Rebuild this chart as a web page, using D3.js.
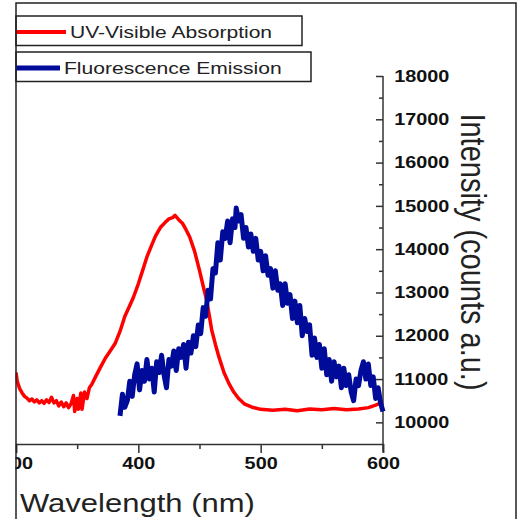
<!DOCTYPE html>
<html>
<head>
<meta charset="utf-8">
<script src="https://cdn.jsdelivr.net/npm/d3@7"></script>
<style>
  body { margin: 0; background: #fff; }
  text { font-family: "Liberation Sans", Arial, sans-serif; }
</style>
</head>
<body>
<div id="chart"></div>
<script>
// absorption (wavelength nm, intensity)
let absWl = [300, 301, 303, 305, 307, 309, 311, 313, 315, 317, 319, 321, 323, 325, 327, 329, 331, 333, 335, 337, 339, 341, 343, 345, 347, 348, 350, 351, 353, 354, 356, 358, 360,
  362, 365, 369, 373, 377, 381, 385, 389, 393, 396, 400, 404, 407, 411, 414, 418, 422, 425, 428, 430, 433, 436, 439, 442, 446,
  450, 453, 456, 460, 463, 466, 470, 474, 478, 482, 487, 493, 500, 510, 520, 530, 540, 550, 560, 570, 580, 588, 594, 600];
let absVal = [11150, 10950, 10780, 10680, 10600, 10560, 10500, 10540, 10470, 10520, 10450, 10500, 10440, 10520, 10460, 10580, 10450, 10500, 10380, 10470, 10360, 10450, 10340, 10430, 10620, 10250, 10550, 10300, 10680, 10300, 10700, 10550, 10800,
  10880, 11050, 11270, 11480, 11650, 11820, 12100, 12450, 12700, 12890, 13200, 13550, 13820, 14100, 14300, 14500, 14620, 14700, 14730, 14780, 14680, 14600, 14450, 14280, 13950,
  13510, 13150, 12800, 12130, 11800, 11500, 11150, 10900, 10700, 10550, 10420, 10350, 10300, 10280, 10300, 10270, 10310, 10290, 10320, 10290, 10310, 10340, 10400, 10470];

// fluorescence emission
let emWl = [385, 387, 389, 391, 393, 395, 397, 399, 401, 403, 405, 407, 409, 411, 413, 415, 417, 419, 421, 423, 425, 427, 429, 431, 433, 435, 437, 439,
  441, 443, 445, 447, 449, 451, 453, 455, 457, 459, 461, 463, 465, 467, 469, 471, 473, 475, 477, 479, 480, 482, 484, 486, 488, 490, 492, 494, 496, 498,
  500, 502, 504, 506, 508, 510, 512, 514, 516, 518, 520, 522, 524, 526, 528, 530, 532, 534, 536, 538, 540, 542, 544, 546, 548, 550, 552, 554, 556, 558,
  560, 562, 564, 566, 568, 570, 572, 574, 576, 578, 580, 582, 584, 586, 588, 590, 592, 594, 596, 598, 600];
let emVal = [10150, 10650, 10350, 10500, 10950, 10600, 11100, 11350, 10750, 11200, 10950, 11450, 11000, 11250, 10700, 11400, 11150, 11550, 11100, 10800, 11450, 11300, 11650, 11200, 11700, 11500, 11800, 11250,
  11850, 11600, 12000, 11750, 12250, 12050, 12650, 12450, 13050, 12850, 13550, 13450, 14150, 13750, 14400, 14250, 14650, 14150, 14700, 14500, 14950, 14650, 14800, 14250, 14500, 14050, 14350, 13950, 14250, 13750,
  13950, 13500, 13850, 13400, 13550, 13100, 13500, 13050, 13200, 12700, 13200, 12750, 12950, 12400, 12800, 12300, 12700, 12000, 12400, 12100, 12250, 11550, 11950, 11500, 11800, 11250, 11700, 11100, 11450, 10950,
  11400, 11050, 11300, 10800, 11250, 10850, 11100, 10700, 10500, 11000, 10850, 11200, 11400, 11000, 11350, 10850, 11050, 10550, 10800, 10450, 10250];

let xTicks = [300, 400, 500, 600];
let yTicks = [10000, 11000, 12000, 13000, 14000, 15000, 16000, 17000, 18000];
let seriesNames = ["UV-Visible Absorption", "Fluorescence Emission"];

let W = 520, H = 519;
let stretch = 1.24;
let svg;

function init() {
  svg = d3.select("#chart").append("svg").attr("width", W).attr("height", H);
  draw();
}

function draw() {
  let x = d3.scaleLinear().domain([300, 600]).range([16, 383]);
  let y = d3.scaleLinear().domain([9500, 18000]).range([444, 76]);

  // x axis
  let xAxis = svg.append("g").attr("transform", "translate(0,444)")
    .call(d3.axisBottom(x).tickValues(xTicks).tickSize(9).tickPadding(5).tickFormat(d3.format("d")));
  svg.append("g").attr("transform", "translate(0,444)")
    .call(d3.axisBottom(x).tickValues([350, 450, 550]).tickSize(5).tickFormat(""))
    .select(".domain").remove();
  xAxis.selectAll("text").attr("transform", "scale(" + stretch + ",1)")
    .style("font-size", "16px").style("font-weight", "bold").attr("fill", "#111");

  // y axis on the right, ticks inward
  let yAxis = svg.append("g").attr("transform", "translate(383,0)")
    .call(d3.axisRight(y).tickValues(yTicks).tickSize(-7).tickPadding(9).tickFormat(d3.format("d")));
  let minor = d3.range(10500, 18000, 1000);
  svg.append("g").attr("transform", "translate(383,0)")
    .call(d3.axisRight(y).tickValues(minor).tickSize(-4).tickFormat(""))
    .select(".domain").remove();
  yAxis.selectAll("text").attr("transform", "scale(" + stretch + ",1)")
    .style("font-size", "16px").style("font-weight", "bold").attr("fill", "#111");
  svg.selectAll(".domain, .tick line").attr("stroke", "#333").attr("stroke-width", 1.5);
  yAxis.select(".domain").attr("d", "M0,76V452");

  // curves
  let line = d3.line().x(d => x(d[0])).y(d => y(d[1]));
  svg.append("path").datum(absWl.map((w, i) => [w, absVal[i]]))
    .attr("d", line).attr("fill", "none").attr("stroke", "#ff0000")
    .attr("stroke-width", 3.5).attr("stroke-linejoin", "round");
  svg.append("path").datum(emWl.map((w, i) => [w, emVal[i]]))
    .attr("d", line).attr("fill", "none").attr("stroke", "#000c99")
    .attr("stroke-width", 5).attr("stroke-linejoin", "round");

  // axis titles
  svg.append("text").attr("transform", "translate(20,512) scale(" + stretch + ",1)")
    .style("font-size", "25px").attr("fill", "#222").text("Wavelength (nm)");
  svg.append("text").attr("transform", "translate(461,252) scale(" + stretch + ",1) rotate(90)")
    .attr("text-anchor", "middle").style("font-size", "29px").attr("fill", "#222")
    .text("Intensity (counts a.u.)");

  // crop on the left
  svg.append("rect").attr("x", 0).attr("y", 0).attr("width", 15.5).attr("height", H).attr("fill", "#fff");

  // legend
  let legend = [
    { name: seriesNames[0], color: "#ff0000", y0: 16, w: 286, lx: 66, tx: 70, ty: 37.5, lw: 4 },
    { name: seriesNames[1], color: "#000c99", y0: 52, w: 295, lx: 60, tx: 64, ty: 74, lw: 5 }
  ];
  legend.forEach(function (d) {
    svg.append("rect").attr("x", 16).attr("y", d.y0).attr("width", d.w).attr("height", 29.5)
      .attr("fill", "#fff").attr("stroke", "#222").attr("stroke-width", 1.5);
    svg.append("line").attr("x1", 16).attr("x2", d.lx).attr("y1", d.y0 + 16).attr("y2", d.y0 + 16)
      .attr("stroke", d.color).attr("stroke-width", d.lw);
    svg.append("text").attr("transform", "translate(" + d.tx + "," + d.ty + ") scale(" + stretch + ",1)")
      .style("font-size", "17px").attr("fill", "#222").text(d.name);
  });

  // outer frame
  svg.append("path").attr("d", "M16,519V3H516V519").attr("fill", "none")
    .attr("stroke", "#222").attr("stroke-width", 1.5);
}

init();
</script>
</body>
</html>
